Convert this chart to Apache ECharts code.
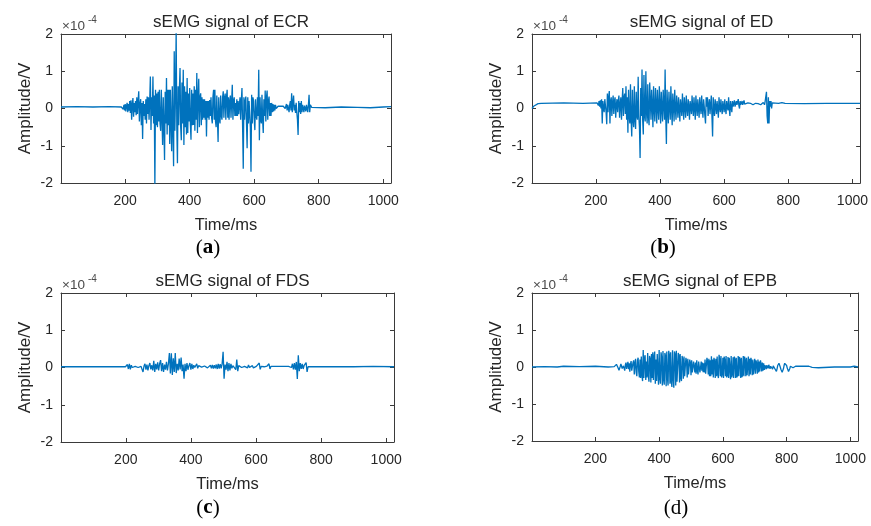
<!DOCTYPE html>
<html>
<head>
<meta charset="utf-8">
<script src="https://cdn.jsdelivr.net/npm/echarts@6/dist/echarts.min.js"></script>
<style>
  html, body { margin: 0; padding: 0; background: #fff; }
  #chart { width: 871px; height: 526px; }
</style>
</head>
<body>
<div id="chart"></div>
<script>
// Amplitudes are in units of 1e-4 V (the axis carries the ×10^-4 multiplier).
const timeTicks = [200, 400, 600, 800, 1000];
const ampTicks = [-2, -1, 0, 1, 2];
const muscles = ['ECR', 'ED', 'FDS', 'EPB'];
const panelTags = ['a', 'b', 'c', 'd'];

// ---- ECR ----
const ecrQuietBefore = [[1, 0.04], [50, 0.05], [100, 0.04], [150, 0.05], [188, 0.04]];
const ecrBurstStart = 190;
const ecrBurstStep = 2;
const ecrBurst = [
  0.04, 0.08, -0.02, 0.1, -0.05, 0.12, -0.08, 0.06, 0.15, -0.1, 0.12, -0.06, 0.2, -0.12, 0.22,
  -0.3, 0.1, 0.28, -0.22, 0.15, -0.1, 0.2, -0.18, 0.3, -0.15, 0.2, 0.46, -0.35, 0.1, 0.25,
  -0.45, 0.15, -0.82, 0.2, -0.2, 0.12, -0.3, 0.25, -0.4, 0.32, -0.15, 0.3, -0.3, 0.2, 0.86,
  -0.58, 0.3, -0.2, 0.86, -0.4, 0.35, -2.1, 0.5, -0.45, 0.4, -0.5, 0.45, -0.35, 0.5, -0.4,
  -0.6, 0.5, 0.55, -0.98, 0.3, -0.5, -1.38, 0.45, -0.4, 0.82, -0.7, 0.5, -0.45, 0.5, -0.95,
  0.5, -0.4, -1.15, 0.6, -0.5, -1.55, 1.54, -0.6, 0.4, 2.1, -0.5, -1.47, 0.6, -0.45, 0.5,
  1.09, -0.5, -0.85, 0.7, -0.4, 1.04, -0.98, 0.6, -0.5, 0.45, -0.7, 0.82, -0.66, 0.4, -0.35,
  0.55, -0.4, -0.84, 0.5, -0.45, 0.4, -0.44, 0.6, -0.6, 0.5, -0.3, 0.95, -0.66, 0.3, 0.8,
  -0.5, 0.3, 0.41, -0.45, 0.3, -0.3, 0.25, -0.25, 0.25, -0.3, 0.2, -0.75, 0.2, -0.25, 0.2,
  -0.3, 0.23, -0.2, 0.3, -0.25, -0.4, 0.3, 0.5, -0.3, 0.5, -0.35, -0.5, 0.35, -0.3, -0.9,
  0.3, -0.3, -0.4, 0.35, -0.2, -0.3, 0.3, 0.46, -0.25, 0.3, 0.4, -0.3, 0.3, 0.5, -0.25,
  0.3, -0.3, 0.2, 0.35, -0.25, 0.2, 0.64, -0.3, 0.2, 0.3, -0.2, 0.15, -0.2, 0.25, -0.2,
  0.2, -0.15, 0.1, 0.3, -0.3, 0.2, 0.55, -0.5, -1.62, 0.3, -0.3, 0.2, 0.32, -0.4, -1.07,
  0.3, -0.4, 0.2, 0.25, -0.5, -1.7, 0.37, -0.4, 0.3, 0.2, -0.3, -0.58, 0.25, -0.2, -0.3,
  0.3, -0.2, 1.04, -0.85, 0.3, -0.3, -0.4, 0.37, -0.3, -0.66, 0.25, -0.2, 0.48, -0.35, 0.3,
  0.48, -0.3, 0.2, 0.32, -0.2, 0.15, -0.2, 0.15, -0.1, 0.12, -0.08, 0.1, -0.05, 0.1, 0.0,
  0.05, 0.03, 0.06, 0.02, 0.05, 0.04, 0.06, 0.03, 0.05, 0.04, 0.06, 0.02, 0.08, 0.0, 0.06,
  0.12, -0.05, 0.1, 0.15, -0.1, 0.1, 0.2, -0.05, 0.41, -0.1, 0.15, 0.35, -0.05, 0.1, -0.12,
  0.15, -0.1, -0.3, -0.71, 0.2, -0.1, 0.15, -0.15, 0.2, -0.1, 0.1, 0.15, -0.1, 0.08, 0.12,
  -0.08, 0.1, 0.15, -0.1, 0.1, 0.37, -0.1, 0.1, 0.05, 0.03, 0.04
];
const ecrQuietAfter = [[782, 0.03], [820, 0.02], [870, 0.04], [920, 0.03], [960, 0.02], [1000, 0.04], [1024, 0.05]];

// ---- ED ----
const edQuietBefore = [[1, 0.0], [6, 0.06], [12, 0.1], [20, 0.13], [30, 0.14], [100, 0.15], [160, 0.14], [204, 0.15]];
const edBurstStart = 206;
const edBurstStep = 2;
const edBurst = [
  0.18, 0.08, 0.2, 0.05, 0.22, 0.0, 0.25, -0.4, 0.2, 0.02, -0.1, 0.25, 0.3, -0.1, -0.42,
  0.4, -0.1, 0.3, 0.47, -0.4, 0.2, 0.3, -0.2, 0.15, 0.35, -0.15, 0.2, 0.3, -0.25, 0.1,
  0.25, -0.1, 0.2, 0.35, -0.25, 0.1, 0.3, -0.3, 0.2, 0.55, -0.2, 0.3, 0.4, -0.15, 0.6,
  -0.3, 0.3, -0.65, 0.5, -0.2, -0.4, 0.65, -0.3, -0.75, 0.5, -0.3, -0.5, 0.6, -0.3, -0.55,
  0.45, -0.2, -0.3, 0.85, -0.2, -0.5, -1.33, 0.55, -0.2, 1.05, -0.3, -0.7, 0.9, -0.2, -0.35,
  1.0, -0.1, -0.4, 0.65, -0.2, -0.45, 0.7, 0.2, -0.3, 0.5, 0.1, -0.5, 0.6, 0.0, -0.35,
  0.55, 0.1, -0.4, 0.5, 0.0, -0.3, 0.6, 0.1, -0.4, 0.45, 0.0, -0.35, 0.5, 0.1, -0.3,
  1.05, -0.2, -0.95, 0.5, 0.0, -0.4, 0.45, 0.05, -0.3, 0.6, 0.0, -0.45, 0.4, 0.1, -0.35,
  0.5, 0.0, -0.3, 0.35, 0.05, -0.25, 0.3, 0.0, -0.35, 0.25, 0.05, -0.2, 0.4, 0.0, -0.3,
  0.3, 0.05, -0.25, 0.35, 0.0, -0.2, 0.25, 0.05, -0.3, 0.2, 0.05, -0.15, 0.35, 0.0, -0.2,
  0.3, 0.0, -0.3, 0.35, 0.05, -0.2, 0.25, 0.0, -0.25, 0.3, 0.05, -0.15, 0.35, 0.0, -0.25,
  0.25, 0.05, -0.2, -0.4, 0.3, 0.05, 0.3, -0.2, 0.1, 0.25, -0.15, 0.1, 0.35, -0.2, -0.75,
  0.3, 0.0, -0.2, 0.25, 0.05, -0.15, 0.2, 0.0, -0.25, 0.3, 0.05, -0.1, 0.25, 0.0, -0.15,
  0.2, 0.05, -0.1, 0.25, 0.0, -0.15, 0.2, 0.05, -0.05, 0.3, 0.0, -0.2, 0.2, 0.05, -0.1,
  0.2, 0.05, 0.0, 0.22, 0.05, 0.02, 0.2, 0.1, 0.05, 0.25, 0.08, 0.0, 0.2, 0.1, 0.05,
  0.2, 0.1, 0.06, 0.22, 0.12, 0.1, 0.16, 0.12, 0.12, 0.15, 0.13, 0.1, 0.15, 0.14, 0.13,
  0.14, 0.12, 0.1, 0.15, 0.13, 0.12, 0.14, 0.12, 0.1, 0.15, 0.13, 0.12, 0.18, 0.12, 0.1,
  0.15, 0.14, 0.13, 0.16, 0.12, 0.1, 0.2, 0.15, 0.45, -0.2, -0.4, 0.3, -0.4, 0.2, 0.05,
  0.2, 0.0, 0.15, 0.1, 0.12
];
const edQuietAfter = [[756, 0.14], [770, 0.14], [780, 0.16], [785, 0.18], [790, 0.14], [850, 0.13], [920, 0.14], [1000, 0.14], [1024, 0.14]];

// ---- FDS ----
const fdsQuietBefore = [[1, 0.02], [80, 0.02], [150, 0.025], [199, 0.02]];
const fdsBurstStart = 202;
const fdsBurstStep = 3;
const fdsBurst = [
  0.02, 0.08, -0.04, 0.1, -0.05, 0.06, 0.0, 0.03, 0.01, 0.03,
  0.02, 0.04, 0.0, 0.03, 0.01, 0.03, -0.05, -0.12, 0.04, 0.1,
  -0.06, 0.08, -0.08, 0.05, 0.12, -0.05, 0.06, -0.08, 0.18, -0.12,
  0.1, -0.05, 0.14, -0.08, 0.1, 0.2, -0.1, 0.12, -0.12, 0.08,
  -0.06, 0.15, -0.08, 0.1, 0.39, -0.16, 0.38, -0.2, 0.25, -0.12,
  0.39, -0.15, 0.1, -0.08, 0.24, -0.05, 0.27, -0.1, 0.08, -0.3,
  0.1, -0.1, 0.12, -0.06, 0.05, 0.12, -0.06, 0.1, -0.04, 0.06,
  0.0, 0.04, 0.1, -0.02, 0.05, 0.0, 0.04, 0.01, 0.05, 0.0,
  0.04, 0.0, 0.05, -0.01, 0.04, 0.0, 0.06, -0.02, 0.07, -0.03,
  0.06, -0.02, 0.08, -0.04, 0.1, -0.03, 0.09, -0.02, 0.1, 0.42,
  -0.3, 0.08, -0.06, 0.15, -0.1, 0.12, -0.08, 0.1, -0.02, 0.05,
  0.0, 0.06, -0.06, 0.21, -0.1, 0.05, 0.0, 0.04, 0.0, 0.03,
  0.01, 0.03, 0.02, 0.05, -0.01, 0.07, 0.0, 0.03, 0.02, 0.05,
  -0.01, 0.03, 0.02, 0.03, 0.02, 0.05, 0.12, -0.05, 0.03, 0.02,
  0.03, 0.02, 0.03, 0.02, 0.04, 0.0, 0.1, -0.04, 0.03, 0.02,
  0.02, 0.03, 0.02, 0.02, 0.03, 0.02, 0.02, 0.03, 0.02, 0.02,
  0.03, 0.02, 0.02, 0.03, 0.02, 0.02, 0.03, 0.02, 0.04, 0.0,
  0.1, -0.05, 0.12, -0.06, 0.15, -0.31, 0.33, -0.1, 0.12, -0.04,
  0.1, -0.04, 0.06, 0.01, 0.13, -0.12, 0.02
];
const fdsQuietAfter = [[763, 0.02], [800, 0.025], [850, 0.02], [900, 0.02], [960, 0.03], [1024, 0.02]];

// ---- EPB ----
const epbQuietBefore = [[1, 0.0], [40, 0.01], [80, 0.0], [100, 0.02], [105, 0.0], [150, 0.01], [200, 0.02], [203, -0.01], [240, 0.0], [259, 0.01]];
const epbBurstStart = 262;
const epbBurstStep = 2;
const epbBurst = [
  0.0, 0.04, 0.07, 0.05, 0.0, -0.05, -0.09, -0.06, 0.02, 0.08, 0.05, -0.04, -0.08, 0.03, 0.07,
  -0.1, 0.06, 0.12, -0.05, -0.1, 0.14, -0.06, 0.1, -0.13, 0.08, 0.16, -0.1, -0.15, 0.12, 0.18,
  -0.2, 0.1, 0.22, -0.15, -0.25, 0.18, 0.25, -0.12, -0.28, 0.2, -0.3, 0.28, -0.22, -0.38, 0.46,
  -0.3, 0.25, 0.32, -0.35, 0.15, -0.28, 0.38, -0.2, -0.4, 0.3, 0.22, -0.42, 0.35, -0.3, 0.4,
  -0.35, 0.28, 0.42, -0.45, 0.2, -0.38, 0.35, 0.3, -0.48, 0.46, -0.3, -0.45, 0.4, 0.25, -0.5,
  0.43, -0.35, -0.48, 0.38, 0.3, -0.52, 0.42, -0.3, -0.5, 0.44, 0.32, -0.45, 0.4, -0.38, -0.54,
  0.45, -0.3, -0.56, 0.42, 0.35, -0.5, 0.44, -0.4, -0.45, 0.38, 0.3, -0.42, 0.35, -0.3, -0.38,
  0.3, 0.2, -0.32, 0.28, -0.25, -0.3, 0.25, 0.15, -0.28, 0.22, -0.2, -0.25, 0.2, 0.12, -0.22,
  0.18, -0.15, -0.2, 0.15, 0.2, -0.15, 0.12, -0.18, 0.18, -0.1, -0.2, 0.15, 0.18, -0.15, -0.12,
  0.15, -0.1, 0.12, -0.14, 0.1, -0.15, 0.2, -0.18, -0.22, 0.25, 0.15, -0.2, 0.22, -0.25, 0.18,
  -0.25, 0.29, -0.2, 0.2, -0.28, 0.25, 0.15, -0.3, 0.22, -0.25, 0.28, -0.2, -0.3, 0.33, 0.2,
  -0.25, 0.3, -0.28, -0.2, 0.25, -0.3, 0.28, 0.18, -0.25, 0.3, -0.28, -0.22, 0.27, -0.3, 0.25,
  0.2, -0.33, 0.3, -0.28, -0.2, 0.26, -0.3, 0.28, 0.2, -0.3, 0.25, -0.28, -0.22, 0.3, -0.25,
  0.27, 0.2, -0.3, 0.25, -0.27, -0.2, 0.3, -0.25, 0.28, 0.18, -0.25, 0.25, -0.22, -0.18, 0.28,
  -0.25, 0.22, -0.2, 0.25, 0.15, -0.22, 0.2, -0.2, -0.15, 0.22, -0.18, 0.18, 0.1, -0.18, 0.2,
  -0.15, 0.15, -0.12, 0.18, 0.08, -0.12, 0.12, -0.1, 0.1, -0.08, 0.05, 0.08, -0.06, 0.05, 0.02,
  -0.04, 0.06, 0.04, -0.05, 0.02, 0.05, -0.03, -0.06, 0.03, 0.06, 0.02, -0.06, -0.1, -0.12, -0.05,
  0.04, 0.08, 0.1, 0.06, 0.0, -0.06, -0.1, -0.14, -0.12, -0.05, 0.04, 0.1, 0.12, 0.1, 0.04,
  -0.03, -0.08, -0.12, -0.1, -0.04, 0.02, 0.06, 0.05, 0.02, -0.02, -0.04, -0.03, 0.0, 0.02, 0.03,
  0.02, 0.03, 0.02, 0.02
];
const epbQuietAfter = [[841, 0.02], [870, 0.02], [880, -0.01], [900, -0.02], [950, 0.0], [1000, 0.0], [1012, 0.02], [1024, 0.0]];

// Join a quiet lead-in, an evenly sampled burst and a quiet tail into [time, amplitude] pairs.
function assemble(before, start, step, burst, after) {
  const pts = before.slice();
  burst.forEach((v, i) => pts.push([start + i * step, v]));
  return pts.concat(after);
}

const signals = [
  assemble(ecrQuietBefore, ecrBurstStart, ecrBurstStep, ecrBurst, ecrQuietAfter),
  assemble(edQuietBefore, edBurstStart, edBurstStep, edBurst, edQuietAfter),
  assemble(fdsQuietBefore, fdsBurstStart, fdsBurstStep, fdsBurst, fdsQuietAfter),
  assemble(epbQuietBefore, epbBurstStart, epbBurstStep, epbBurst, epbQuietAfter)
];

// Plot boxes (px) for the 2x2 layout.
const boxes = [
  { left: 61, top: 34, width: 330, height: 149 },
  { left: 532, top: 34, width: 329, height: 149 },
  { left: 61, top: 293, width: 333, height: 149 },
  { left: 532, top: 293, width: 326, height: 148 }
];

const SANS = '"Liberation Sans", Arial, Helvetica, sans-serif';
const SERIF = '"Liberation Serif", "Times New Roman", serif';
const TEXT = '#262626';
const AXIS = '#3a3a3a';
const LINE = '#0072BD';

const grid = [], xAxis = [], yAxis = [], series = [], title = [], graphic = [];
const plain = v => String(v);

boxes.forEach((b, i) => {
  grid.push({ left: b.left, top: b.top, width: b.width, height: b.height, containLabel: false });
  const tick = { show: true, inside: true, length: 4, lineStyle: { color: AXIS, width: 1 } };
  const line = { show: true, onZero: false, lineStyle: { color: AXIS, width: 1 } };
  // bottom time axis
  xAxis.push({
    gridIndex: i, type: 'value', min: 1, max: 1024, position: 'bottom',
    axisLine: line,
    axisTick: Object.assign({}, tick, { customValues: timeTicks }),
    axisLabel: { customValues: timeTicks, formatter: plain, color: TEXT, fontSize: 14, fontFamily: SANS, margin: 11 },
    splitLine: { show: false },
    name: 'Time/ms', nameLocation: 'middle', nameGap: 34,
    nameTextStyle: { color: TEXT, fontSize: 16.5, fontFamily: SANS }
  });
  // top edge of the box
  xAxis.push({
    gridIndex: i, type: 'value', min: 1, max: 1024, position: 'top',
    axisLine: line,
    axisTick: Object.assign({}, tick, { customValues: timeTicks }),
    axisLabel: { show: false }, splitLine: { show: false }
  });
  // left amplitude axis
  yAxis.push({
    gridIndex: i, type: 'value', min: -2, max: 2, position: 'left',
    axisLine: line,
    axisTick: Object.assign({}, tick, { customValues: ampTicks }),
    axisLabel: { customValues: ampTicks, formatter: plain, color: TEXT, fontSize: 14, fontFamily: SANS, margin: 8 },
    splitLine: { show: false },
    name: 'Amplitude/V', nameLocation: 'middle', nameGap: 27, nameRotate: 90,
    nameTextStyle: { color: TEXT, fontSize: 17, fontFamily: SANS }
  });
  // right edge of the box
  yAxis.push({
    gridIndex: i, type: 'value', min: -2, max: 2, position: 'right',
    axisLine: line,
    axisTick: Object.assign({}, tick, { customValues: ampTicks }),
    axisLabel: { show: false }, splitLine: { show: false }
  });

  series.push({
    type: 'line', xAxisIndex: 2 * i, yAxisIndex: 2 * i,
    data: signals[i], showSymbol: false, symbol: 'none', sampling: null,
    clip: true, animation: false,
    lineStyle: { color: LINE, width: 1.3 }
  });

  title.push({
    text: 'sEMG signal of ' + muscles[i],
    left: b.left + b.width / 2, top: b.top - 25, textAlign: 'center',
    textStyle: { color: TEXT, fontSize: 17, fontWeight: 'normal', fontFamily: SANS }
  });

  // ×10^-4 multiplier above the amplitude axis
  graphic.push({
    type: 'text', left: b.left + 1, top: b.top - 15,
    style: { text: '×10', fill: '#4a4a4a', fontSize: 13.5, fontFamily: SANS }
  });
  graphic.push({
    type: 'text', left: b.left + 27, top: b.top - 19,
    style: { text: '-4', fill: '#4a4a4a', fontSize: 10, fontFamily: SANS }
  });
});

// Sub-figure tags under each panel
const tagPos = [[208, 248], [663, 248], [208, 508], [676, 508]];
tagPos.forEach((p, i) => {
  graphic.push({
    type: 'text', x: p[0], y: p[1],
    style: {
      text: '({t|' + panelTags[i] + '})',
      rich: { t: { fontWeight: i === 3 ? 'normal' : 'bold', fontSize: 21, fontFamily: SERIF, fill: '#000' } },
      fill: '#000', fontSize: 21, fontFamily: SERIF,
      align: 'center', verticalAlign: 'middle'
    }
  });
});

const chart = echarts.init(document.getElementById('chart'), null, { renderer: 'canvas' });
chart.setOption({
  backgroundColor: '#ffffff',
  animation: false,
  title, grid, xAxis, yAxis, series, graphic
});
</script>
</body>
</html>
